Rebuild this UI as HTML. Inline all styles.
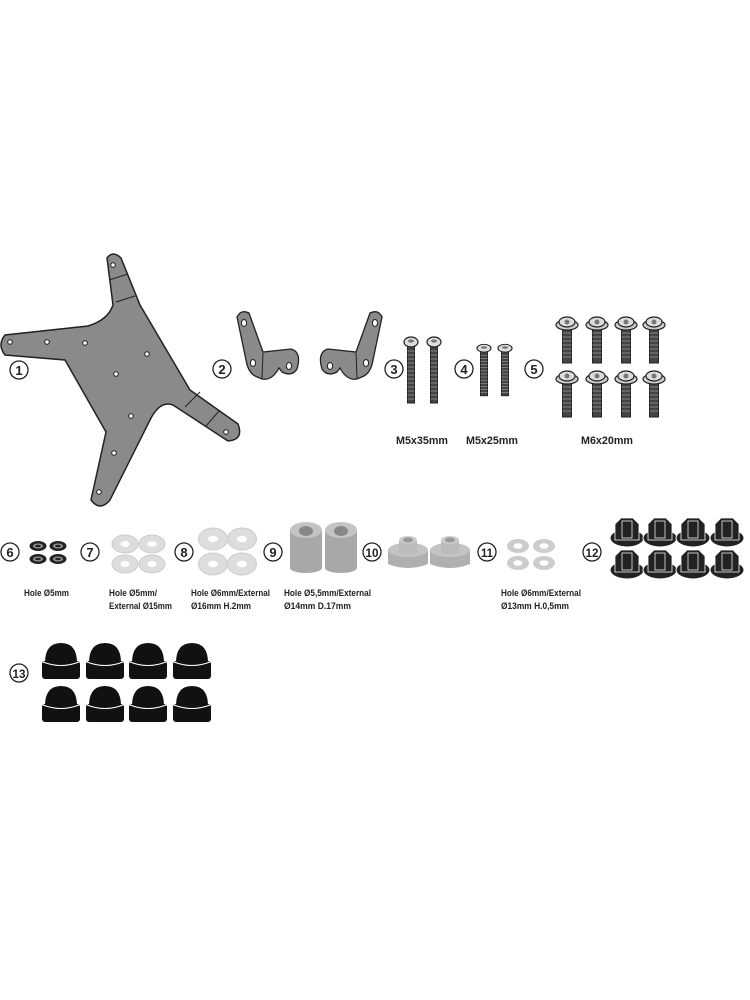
<!DOCTYPE html>
<html><head><meta charset="utf-8"><style>
html,body{margin:0;padding:0;background:#fff;}
svg{display:block}
text{font-family:"Liberation Sans",sans-serif;font-weight:bold;fill:#222;}
</style></head><body>
<svg width="750" height="1000" viewBox="0 0 750 1000" xmlns="http://www.w3.org/2000/svg">
<defs>
  <g id="num"><circle r="9" fill="#fff" stroke="#222" stroke-width="1.3"/></g>
  <g id="screwS">
    <rect x="-3.5" y="0" width="7" height="60" fill="#444" stroke="#222" stroke-width="1"/>
    <path d="M-3.5,4 h7 M-3.5,8 h7 M-3.5,12 h7 M-3.5,16 h7 M-3.5,20 h7 M-3.5,24 h7 M-3.5,28 h7 M-3.5,32 h7 M-3.5,36 h7 M-3.5,40 h7 M-3.5,44 h7 M-3.5,48 h7 M-3.5,52 h7 M-3.5,56 h7" stroke="#999" stroke-width="0.8"/>
    <ellipse cx="0" cy="-1" rx="7" ry="5" fill="#ddd" stroke="#222" stroke-width="1.2"/>
    <ellipse cx="0" cy="-2" rx="3" ry="1.6" fill="#777"/>
  </g>
  <g id="screwM">
    <rect x="-4.5" y="0" width="9" height="38" fill="#444" stroke="#222" stroke-width="1"/>
    <path d="M-4.5,4 h9 M-4.5,8 h9 M-4.5,12 h9 M-4.5,16 h9 M-4.5,20 h9 M-4.5,24 h9 M-4.5,28 h9 M-4.5,32 h9" stroke="#999" stroke-width="0.8"/>
    <ellipse cx="0" cy="0" rx="11" ry="5" fill="#ccc" stroke="#222" stroke-width="1.2"/>
    <ellipse cx="0" cy="-3" rx="8" ry="5" fill="#ddd" stroke="#222" stroke-width="1.2"/>
    <circle cx="0" cy="-3" r="2.5" fill="#777"/>
  </g>
  <g id="bwash"><ellipse rx="8.5" ry="5" fill="#222"/><ellipse rx="5" ry="2.5" fill="#999"/><ellipse rx="3" ry="1.3" fill="#222"/></g>
  <g id="wash"><ellipse rx="13" ry="9" fill="#ddd" stroke="#ccc"/><ellipse rx="4.5" ry="3" fill="#fff"/></g>
  <g id="wash8"><ellipse rx="14.5" ry="11" fill="#ddd" stroke="#ccc"/><ellipse rx="5" ry="3.2" fill="#fff"/></g>
  <g id="spacer"><rect x="-16" y="-15" width="32" height="38" fill="#a8a8a8"/><ellipse cx="0" cy="23" rx="16" ry="5" fill="#a8a8a8"/><ellipse cx="0" cy="-15" rx="16" ry="8" fill="#c4c4c4"/><ellipse cx="0" cy="-14" rx="7" ry="5" fill="#888"/></g>
  <g id="bush"><path d="M-20,0 L20,0 L20,14 Q0,22 -20,14 Z" fill="#b0b0b0"/><ellipse cx="0" cy="0" rx="20" ry="7" fill="#c4c4c4"/><path d="M-9,-10 L9,-10 L9,3 Q0,6 -9,3 Z" fill="#bbb"/><ellipse cx="0" cy="-10" rx="9" ry="4" fill="#ccc"/><ellipse cx="0" cy="-10" rx="5" ry="2.5" fill="#999"/></g>
  <g id="sw"><ellipse rx="11" ry="7" fill="#ccc"/><ellipse rx="4.5" ry="2.8" fill="#fff"/></g>
  <g id="nut"><ellipse cx="0" cy="6" rx="17" ry="9" fill="#222" stroke="#fff" stroke-width="1"/><path d="M-12,-8 L-6,-14 L6,-14 L12,-8 L12,8 L-12,8 Z" fill="#222" stroke="#fff" stroke-width="0.8"/><path d="M-5,-11 h10 v17 h-10z" fill="none" stroke="#fff" stroke-width="0.7"/></g>
  <g id="cap"><path d="M-16,2 Q-16,-18 0,-18 Q16,-18 16,2 Z" fill="#111"/><rect x="-19" y="0" width="38" height="18" rx="3" fill="#111"/><path d="M-18,1 Q0,8 18,1" stroke="#fff" stroke-width="1" fill="none"/></g>
  <g id="brk">
    <path d="M237,317 Q241,309 249,313 L263,352 L291,349 Q302,352 297,369 Q292,377 282,372 L279,368 Q272,381 262,379 L255,376 Q248,372 246,360 Z" fill="#8a8a8a" stroke="#222" stroke-width="1.3"/>
    <ellipse cx="244" cy="323" rx="2.6" ry="3.5" fill="#fff" stroke="#222"/>
    <ellipse cx="253" cy="363" rx="2.6" ry="3.5" fill="#fff" stroke="#222"/>
    <ellipse cx="289" cy="366" rx="2.6" ry="3.5" fill="#fff" stroke="#222"/>
    <path d="M263,353 L262,378" stroke="#222" stroke-width="1"/>
  </g>
</defs>

<!-- Plate 1 -->
<path d="M107,258 Q113,250 121,258 L140,305 L190,390 L238,424 Q244,440 228,441 L173,405 Q160,400 150,420 L110,500 Q100,512 91,500 L106,432 L65,360 L5,355 Q-3,345 5,335 L88,326 Q108,320 113,305 Z" fill="#8a8a8a" stroke="#222" stroke-width="1.5"/>
<g fill="#fff" stroke="#222" stroke-width="1">
<circle cx="113" cy="265" r="2.3"/><circle cx="10" cy="342" r="2.3"/><circle cx="47" cy="342" r="2.3"/><circle cx="85" cy="343" r="2.3"/><circle cx="147" cy="354" r="2.3"/><circle cx="116" cy="374" r="2.3"/><circle cx="131" cy="416" r="2.3"/><circle cx="226" cy="432" r="2.3"/><circle cx="114" cy="453" r="2.3"/><circle cx="99" cy="492" r="2.3"/>
</g>
<path d="M109,280 L128,274 M116,302 L135,296 M185,407 L200,392 M206,426 L219,411" stroke="#222" stroke-width="1"/>

<!-- Brackets 2 -->
<use href="#brk"/>
<use href="#brk" transform="translate(619,0) scale(-1,1)"/>

<!-- Screws -->
<use href="#screwS" x="411" y="343"/><use href="#screwS" x="434" y="343"/>
<g transform="translate(484,349) scale(1,0.78)"><use href="#screwS"/></g>
<g transform="translate(505,349) scale(1,0.78)"><use href="#screwS"/></g>
<use href="#screwM" x="567" y="325"/><use href="#screwM" x="597" y="325"/><use href="#screwM" x="626" y="325"/><use href="#screwM" x="654" y="325"/>
<use href="#screwM" x="567" y="379"/><use href="#screwM" x="597" y="379"/><use href="#screwM" x="626" y="379"/><use href="#screwM" x="654" y="379"/>

<!-- Row 2 -->
<use href="#bwash" x="38" y="546"/><use href="#bwash" x="58" y="546"/><use href="#bwash" x="38" y="559"/><use href="#bwash" x="58" y="559"/>
<use href="#wash" x="125" y="544"/><use href="#wash" x="152" y="544"/><use href="#wash" x="125" y="564"/><use href="#wash" x="152" y="564"/>
<use href="#wash8" x="213" y="539"/><use href="#wash8" x="242" y="539"/><use href="#wash8" x="213" y="564"/><use href="#wash8" x="242" y="564"/>
<use href="#spacer" x="306" y="545"/><use href="#spacer" x="341" y="545"/>
<use href="#bush" x="408" y="550"/><use href="#bush" x="450" y="550"/>
<use href="#sw" x="518" y="546"/><use href="#sw" x="544" y="546"/><use href="#sw" x="518" y="563"/><use href="#sw" x="544" y="563"/>
<use href="#nut" x="627" y="532"/><use href="#nut" x="660" y="532"/><use href="#nut" x="693" y="532"/><use href="#nut" x="727" y="532"/>
<use href="#nut" x="627" y="564"/><use href="#nut" x="660" y="564"/><use href="#nut" x="693" y="564"/><use href="#nut" x="727" y="564"/>

<!-- Caps -->
<use href="#cap" x="61" y="661"/><use href="#cap" x="105" y="661"/><use href="#cap" x="148" y="661"/><use href="#cap" x="192" y="661"/>
<use href="#cap" x="61" y="704"/><use href="#cap" x="105" y="704"/><use href="#cap" x="148" y="704"/><use href="#cap" x="192" y="704"/>

<!-- Numbers -->
<g font-size="13" text-anchor="middle">
<use href="#num" x="19" y="370"/><text x="19" y="375">1</text>
<use href="#num" x="222" y="369"/><text x="222" y="374">2</text>
<use href="#num" x="394" y="369"/><text x="394" y="374">3</text>
<use href="#num" x="464" y="369"/><text x="464" y="374">4</text>
<use href="#num" x="534" y="369"/><text x="534" y="374">5</text>
<use href="#num" x="10" y="552"/><text x="10" y="557">6</text>
<use href="#num" x="90" y="552"/><text x="90" y="557">7</text>
<use href="#num" x="184" y="552"/><text x="184" y="557">8</text>
<use href="#num" x="273" y="552"/><text x="273" y="557">9</text>
<use href="#num" x="372" y="552"/><text x="372" y="557" font-size="12" textLength="13" lengthAdjust="spacingAndGlyphs">10</text>
<use href="#num" x="487" y="552"/><text x="487" y="557" font-size="12" textLength="12" lengthAdjust="spacingAndGlyphs">11</text>
<use href="#num" x="592" y="552"/><text x="592" y="557" font-size="12" textLength="13" lengthAdjust="spacingAndGlyphs">12</text>
<use href="#num" x="19" y="673"/><text x="19" y="678" font-size="12" textLength="13" lengthAdjust="spacingAndGlyphs">13</text>
</g>

<!-- Labels -->
<g font-size="11">
<text x="396" y="444" textLength="52" lengthAdjust="spacingAndGlyphs">M5x35mm</text>
<text x="466" y="444" textLength="52" lengthAdjust="spacingAndGlyphs">M5x25mm</text>
<text x="581" y="444" textLength="52" lengthAdjust="spacingAndGlyphs">M6x20mm</text>
</g>
<g font-size="9">
<text x="24" y="596" textLength="45" lengthAdjust="spacingAndGlyphs">Hole Ø5mm</text>
<text x="109" y="596" textLength="48" lengthAdjust="spacingAndGlyphs">Hole Ø5mm/</text>
<text x="109" y="609" textLength="63" lengthAdjust="spacingAndGlyphs">External Ø15mm</text>
<text x="191" y="596" textLength="79" lengthAdjust="spacingAndGlyphs">Hole Ø6mm/External</text>
<text x="191" y="609" textLength="60" lengthAdjust="spacingAndGlyphs">Ø16mm H.2mm</text>
<text x="284" y="596" textLength="87" lengthAdjust="spacingAndGlyphs">Hole Ø5,5mm/External</text>
<text x="284" y="609" textLength="67" lengthAdjust="spacingAndGlyphs">Ø14mm D.17mm</text>
<text x="501" y="596" textLength="80" lengthAdjust="spacingAndGlyphs">Hole Ø6mm/External</text>
<text x="501" y="609" textLength="68" lengthAdjust="spacingAndGlyphs">Ø13mm H.0,5mm</text>
</g>
</svg>
</body></html>
